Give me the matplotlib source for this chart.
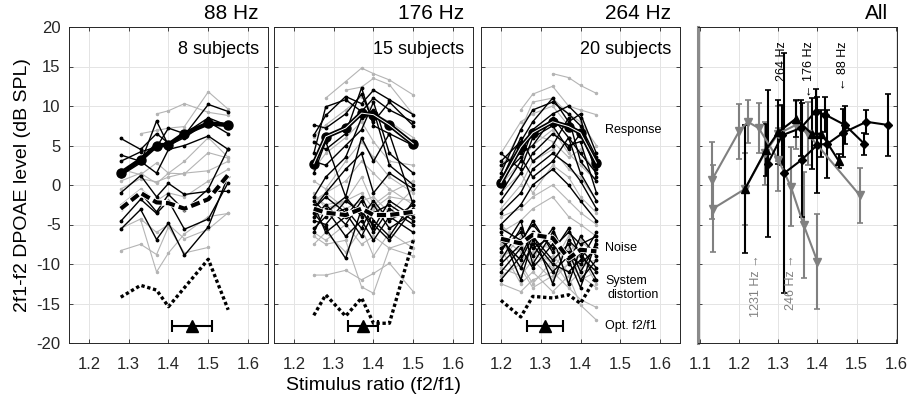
import numpy as np
import matplotlib
matplotlib.use('Agg')
import matplotlib.pyplot as plt

plt.rcParams['font.family'] = ['Liberation Sans', 'DejaVu Sans']
plt.rcParams['axes.unicode_minus'] = False

nan = np.nan

# ---------------- data ----------------
# 88 Hz, 8 subjects
x88 = [1.28, 1.33, 1.37, 1.40, 1.44, 1.50, 1.55]
resp88_k = [
    [5.9, 4.5, 6.5, 5.3, 6.3, 10.2, 9.3],
    [3.0, 4.2, 4.8, 7.2, 6.5, 8.5, 7.5],
    [3.8, 3.0, 1.5, 4.5, 5.0, 6.2, 4.5],
    [1.2, 2.8, 8.1, 5.0, 6.0, 8.0, 6.5],
]
resp88_g = [
    [nan, 6.5, 6.9, 7.2, 7.4, 11.8, 9.6],
    [nan, nan, 9.0, 9.4, 10.3, 9.2, 8.8],
    [2.0, 1.3, 2.8, 1.5, 3.0, 6.0, 3.5],
    [0.5, 1.5, 0.2, 1.5, 1.4, 4.1, 3.4],
    [-0.5, 0.8, 0.4, 1.0, 1.5, 1.8, 3.0],
]
noise88_k = [
    [-1.0, 1.2, -1.5, 0.2, -1.2, -0.8, -0.8],
    [-3.0, -1.0, -3.4, -1.2, -3.2, -0.5, 4.6],
    [-5.6, -3.1, -6.9, -4.8, -8.9, -5.3, 1.2],
    [-4.6, -1.8, -3.6, -2.0, -5.6, -4.3, 0.3],
]
noise88_g = [
    [-5.5, -4.3, -6.0, -5.0, -6.8, -5.6, -3.5],
    [-8.3, -7.5, -8.8, -5.3, -8.6, -7.9, nan],
    [nan, -4.4, -11.0, -8.6, -6.2, -4.0, -3.6],
    [-2.5, -0.5, -2.0, -1.0, -1.5, 0.5, 2.0],
]
mean88_resp = [1.5, 3.2, 5.0, 5.1, 6.5, 7.8, 7.6]
mean88_noise = [-3.0, -1.0, -2.2, -2.3, -3.0, -1.8, 1.3]
dist88_x = [1.28, 1.33, 1.37, 1.40, 1.50, 1.55]
dist88_y = [-14.2, -12.7, -13.3, -15.4, -9.4, -15.8]
opt88, opt88_err = 1.46, 0.05

# 176 Hz, 15 subjects
x176 = [1.25, 1.28, 1.33, 1.37, 1.40, 1.44, 1.50]
resp176_k = [
    [6.3, 8.8, 11.2, 10.3, 12.0, 10.8, 8.9],
    [4.0, 9.9, 10.8, 9.3, 11.0, 9.5, 8.0],
    [7.6, 7.2, 9.0, 11.5, 8.0, 10.5, 7.5],
    [5.5, 4.5, 6.5, 12.3, 7.5, 6.5, 5.0],
    [3.0, 2.5, 5.0, 7.0, 10.5, 4.0, 1.5],
    [-1.5, 1.0, 3.5, 8.5, 9.5, 2.5, 0.0],
    [1.5, 5.5, -1.5, 6.0, 3.0, 6.5, -2.5],
    [-3.0, -1.0, 2.0, 4.0, -1.0, 1.5, -0.5],
]
resp176_g = [
    [nan, 11.0, 13.1, 14.8, 14.1, 13.3, 11.4],
    [nan, nan, 12.0, 12.4, 13.5, 12.7, 8.9],
    [6.1, 7.6, 9.5, 11.2, 9.0, 8.0, 6.0],
    [2.0, 4.0, 6.0, 8.0, 5.5, 3.0, 2.5],
    [0.5, -0.5, 3.0, 5.5, 3.5, 1.0, -1.0],
    [-2.0, -1.0, 0.5, 3.0, 1.5, -0.5, -2.5],
    [-1.0, -3.0, -2.0, 1.0, -2.5, -1.0, 0.5],
]
noise176_k = [
    [-2.0, -3.5, -1.5, -4.0, -2.0, -4.5, -2.5],
    [-4.0, -2.5, -5.0, -2.0, -5.5, -2.0, -4.0],
    [-3.5, -5.5, -9.3, -3.0, -6.0, -3.0, -5.0],
    [-5.5, -4.0, -3.0, -5.5, -2.5, -5.5, -3.5],
    [-2.5, -6.0, -4.0, -1.5, -4.5, -6.5, -2.0],
    [-6.0, -3.0, -6.5, -4.5, -7.0, -4.0, -6.0],
    [-3.0, -1.5, -3.5, -6.5, -3.5, -2.5, -4.5],
    [-4.5, -5.0, -2.0, -3.5, -5.0, -7.0, -3.0],
]
noise176_g = [
    [-11.4, -11.4, -10.8, -12.0, -11.2, -9.9, -13.5],
    [-6.5, -7.5, -7.0, -12.9, -13.7, -8.0, -9.0],
    [-6.0, -7.0, -5.0, -7.5, -6.5, -8.0, -7.0],
    [-1.5, -2.5, -2.0, -1.0, -3.0, -1.5, -2.0],
    [-4.0, -3.5, -2.0, -3.0, -2.5, -4.5, -3.0],
    [-7.5, -6.0, -8.5, -5.5, -9.0, -6.0, -8.0],
    [-2.5, -1.0, -3.0, -2.0, -1.5, -3.5, -0.5],
]
mean176_resp = [2.7, 6.1, 7.2, 9.1, 8.9, 7.6, 5.2]
mean176_noise = [-3.0, -3.5, -3.8, -3.0, -3.8, -3.8, -3.4]
dist176_x = x176
dist176_y = [-16.5, -13.9, -16.6, -14.3, -17.5, -17.5, -7.0]
opt176, opt176_err = 1.374, 0.038

# 264 Hz, 20 subjects
x264 = [1.20, 1.25, 1.28, 1.33, 1.37, 1.40, 1.44]
resp264_k = [
    [3.0, 5.5, 8.0, 11.0, 8.0, 9.0, 4.0],
    [1.5, 7.0, 9.5, 10.5, 9.0, 7.5, 3.5],
    [-1.0, 3.0, 7.0, 9.0, 10.0, 8.5, 1.0],
    [2.5, 4.0, 5.0, 8.5, 6.0, 4.0, 1.5],
    [-2.0, 1.5, 4.0, 6.5, 5.0, 5.5, -1.0],
    [0.5, 6.0, 3.0, 5.0, 8.5, 3.0, 0.5],
    [-3.5, -1.0, 2.0, 4.0, 2.5, 0.5, -3.0],
    [4.0, 2.0, 6.0, 7.5, 4.5, 6.5, 2.0],
    [-5.0, -2.5, 0.0, 2.0, 0.0, -2.0, -4.5],
    [1.0, 3.5, 1.0, 3.0, 6.0, 1.5, -2.0],
]
resp264_g = [
    [nan, nan, nan, 14.1, 13.6, 12.6, 11.6],
    [nan, 9.5, 11.5, 12.5, 10.0, 9.5, 8.9],
    [2.0, 7.0, 10.5, 11.0, 9.0, 8.0, 5.0],
    [4.0, 8.0, 9.0, 10.0, 7.5, 6.5, 3.0],
    [0.0, 3.0, 5.0, 7.0, 4.0, 2.5, 0.5],
    [-3.0, 0.0, 3.0, 4.5, 2.0, 1.0, -2.0],
    [-1.0, 1.5, -1.0, 2.5, 1.0, -1.5, -3.5],
    [-4.0, -3.0, -1.5, 0.0, -2.0, -3.5, -5.0],
    [-6.0, -4.5, -3.0, -1.5, -4.0, -5.0, -6.5],
    [2.5, 4.5, 6.5, 5.5, 3.5, 4.5, 1.5],
]
noise264_k = [
    [-5.5, -7.0, -5.0, -8.0, -6.0, -7.5, -6.5],
    [-8.0, -6.0, -9.0, -5.5, -10.0, -6.5, -9.0],
    [-7.0, -9.5, -6.5, -9.5, -7.5, -11.0, -7.5],
    [-9.5, -5.5, -8.0, -6.5, -12.5, -8.0, -10.5],
    [-6.5, -10.5, -7.5, -11.0, -9.0, -10.0, -8.0],
    [-11.0, -8.0, -10.5, -7.5, -8.5, -12.0, -9.5],
    [-6.0, -12.0, -7.0, -10.0, -11.0, -9.5, -6.0],
    [-10.0, -7.5, -4.5, -8.5, -5.5, -9.0, -11.0],
    [-8.5, -4.5, -10.0, -6.0, -9.5, -13.0, -7.0],
    [-12.0, -9.0, -6.0, -12.5, -7.0, -8.5, -12.0],
]
noise264_g = [
    [-9.0, -8.0, -10.0, -9.0, -11.0, -10.0, -9.5],
    [-7.5, -9.5, -8.5, -10.5, -8.0, -12.0, -11.0],
    [-10.5, -11.5, -9.5, -12.0, -10.0, -9.0, -12.5],
    [-6.5, -8.5, -7.5, -8.0, -9.5, -8.5, -8.0],
    [-11.5, -10.0, -12.5, -9.5, -12.5, -11.0, -10.5],
    [-8.0, -12.5, -11.0, -13.5, -11.5, -15.2, -17.1],
    [-5.0, -7.5, -9.0, -7.0, -8.5, -7.0, -9.0],
    [-12.5, -13.5, -12.0, -11.0, -13.0, -14.5, -15.5],
    [-9.5, -6.5, -8.0, -10.0, -6.5, -10.5, -7.5],
    [-7.0, -10.5, -13.0, -11.5, -10.0, -11.5, -13.0],
]
mean264_resp = [0.3, 4.8, 6.6, 8.0, 7.4, 6.6, 2.8]
mean264_noise = [-6.8, -7.4, -6.3, -6.7, -9.3, -8.2, -8.4]
dist264_x = x264
dist264_y = [-14.6, -16.7, -14.1, -14.3, -13.9, -15.0, -11.6]
opt264, opt264_err = 1.31, 0.045
opt_level = -17.8

# All: group means +- error
all_88_x = [1.315, 1.36, 1.40, 1.425, 1.465, 1.525, 1.58]
all_88_y = [1.5, 3.2, 5.1, 5.2, 6.6, 8.0, 7.6]
all_88_e = [15.2, 7.2, 6.1, 4.3, 3.0, 1.5, 3.9]
all_176_x = [1.273, 1.31, 1.357, 1.395, 1.42, 1.47, 1.52]
all_176_y = [2.7, 6.3, 7.2, 9.3, 8.9, 7.6, 5.2]
all_176_e = [9.3, 3.8, 3.5, 2.8, 2.2, 2.4, 1.4]
all_264_x = [1.215, 1.268, 1.30, 1.345, 1.385, 1.41, 1.455]
all_264_y = [-0.5, 4.4, 6.7, 8.4, 6.5, 6.5, 3.0]
all_264_e = [8.1, 3.3, 4.0, 2.3, 4.5, 3.0, 0.9]
all_246_x = [1.133, 1.215, 1.265, 1.30, 1.345, 1.375, 1.508]
all_246_y = [-3.0, -0.5, 4.0, 6.5, 7.6, 6.5, -1.3]
all_246_e = [5.5, 4.5, 4.0, 3.5, 3.0, 4.0, 3.5]
all_1231_x = [1.13, 1.20, 1.222, 1.25, 1.30, 1.332, 1.365, 1.40]
all_1231_y = [0.6, 6.8, 8.0, 7.2, 3.2, -0.2, -5.1, -9.7]
all_1231_e = [4.9, 3.5, 2.7, 3.2, 4.0, 5.0, 6.7, 6.0]

titles = ['88 Hz', '176 Hz', '264 Hz', 'All']
n_subj = ['8 subjects', '15 subjects', '20 subjects']

K = '#262626'
GREY_LINE = '#b4b4b4'
GREY_SER = '#808080'


def style_axes(ax, xticks, xlim):
    ax.set_xlim(*xlim)
    ax.set_ylim(-20, 20)
    ax.set_xticks(xticks)
    ax.set_xticklabels(['%.1f' % t for t in xticks])
    ax.set_yticks(np.arange(-20, 21, 5))
    ax.grid(True, color='#e4e4e4', lw=0.7)
    ax.set_axisbelow(True)
    ax.tick_params(direction='in', top=True, right=True, length=3,
                   width=0.6, colors=K, labelsize=12)
    ax.tick_params(axis='x', pad=10)
    ax.tick_params(axis='y', pad=6)
    for s in ax.spines.values():
        s.set_color(K)
        s.set_linewidth(0.7)


def draw_panel(ax, x, rk, rg, nk, ng, m_resp, m_noise, dx, dy, opt, opt_err, core):
    for row in rg + ng:
        ax.plot(x, row, '-', color=GREY_LINE, lw=0.8, marker='.', ms=3)
    for row in rk + nk:
        ax.plot(x, row, '-', color='k', lw=1.0, marker='.', ms=3.5)
    ax.plot(dx, dy, color='k', lw=2.4, ls=(0, (1, 0.8)))
    ax.plot(x, m_noise, color='white', lw=4.2)
    ax.plot(x, m_noise, color='k', lw=3.0, ls=(0, (2.2, 1.0)))
    ax.plot(x, m_resp, color='k', lw=3.2, marker='o', ms=6.5)
    if core:
        ax.plot(x, m_resp, color='white', lw=0.7)
    ax.errorbar([opt], [opt_level], xerr=[opt_err], fmt='^', color='k', ms=9,
                lw=1.5, capsize=4, capthick=1.5)


fig = plt.figure(figsize=(9.15, 4.0), dpi=100)
lefts = [69, 274, 481, 698]
axes = [fig.add_axes([l / 915, 57 / 400, 199 / 915, 316 / 400]) for l in lefts]
ticks_a = [1.2, 1.3, 1.4, 1.5, 1.6]
for ax in axes[:3]:
    style_axes(ax, ticks_a, (1.15, 1.65))
style_axes(axes[3], [1.1, 1.2, 1.3, 1.4, 1.5, 1.6], (1.095, 1.603))
for ax in axes[1:]:
    ax.set_yticklabels([])

draw_panel(axes[0], x88, resp88_k, resp88_g, noise88_k, noise88_g, mean88_resp,
           mean88_noise, dist88_x, dist88_y, opt88, opt88_err, False)
draw_panel(axes[1], x176, resp176_k, resp176_g, noise176_k, noise176_g, mean176_resp,
           mean176_noise, dist176_x, dist176_y, opt176, opt176_err, True)
draw_panel(axes[2], x264, resp264_k, resp264_g, noise264_k, noise264_g, mean264_resp,
           mean264_noise, dist264_x, dist264_y, opt264, opt264_err, True)

for ax, t in zip(axes, titles):
    ax.text(0.953, 1.014, t, transform=ax.transAxes, ha='right', va='bottom', fontsize=15)
for ax, t in zip(axes[:3], n_subj):
    ax.text(0.955, 0.955, t, transform=ax.transAxes, ha='right', va='top', fontsize=13)

# labels in the 264 Hz panel
a3 = axes[2]
a3.text(1.462, 7.0, 'Response', fontsize=9, va='center')
a3.text(1.462, -8.0, 'Noise', fontsize=9, va='center')
a3.text(1.462, -12.2, 'System', fontsize=9, va='center')
a3.text(1.468, -13.9, 'distortion', fontsize=9, va='center')
a3.text(1.462, -17.8, 'Opt. f2/f1', fontsize=9, va='center')

# All panel
a4 = axes[3]
a4.spines['left'].set_color('#8a8a8a')
a4.spines['left'].set_linewidth(2.2)
for xs, ys, es in [(all_1231_x, all_1231_y, all_1231_e), (all_246_x, all_246_y, all_246_e)]:
    a4.errorbar(xs, ys, yerr=es, color=GREY_SER, marker='v', ms=6, lw=1.5,
                elinewidth=1.5, capsize=2, capthick=1.2)
a4.errorbar(all_264_x, all_264_y, yerr=all_264_e, color='k', marker='^', ms=6, lw=1.5,
            elinewidth=1.5, capsize=2, capthick=1.2)
for xs, ys, es in [(all_176_x, all_176_y, all_176_e), (all_88_x, all_88_y, all_88_e)]:
    a4.errorbar(xs, ys, yerr=es, color='k', marker='D', ms=4.5, lw=1.5,
                elinewidth=1.5, capsize=2, capthick=1.2)

a4.text(1.31, 18.2, '264 Hz', rotation=90, ha='center', va='top', fontsize=9)
a4.text(1.378, 18.2, '\u2190 176 Hz', rotation=90, ha='center', va='top', fontsize=9)
a4.text(1.464, 18.2, '\u2190 88 Hz', rotation=90, ha='center', va='top', fontsize=9)
a4.text(1.244, -8.8, '1231 Hz \u2192', rotation=90, ha='center', va='top', fontsize=9,
        color=GREY_SER)
a4.text(1.332, -8.8, '246 Hz \u2192', rotation=90, ha='center', va='top', fontsize=9,
        color=GREY_SER)

axes[0].set_ylabel('2f1-f2 DPOAE level (dB SPL)', fontsize=14, labelpad=4)
axes[1].set_xlabel('Stimulus ratio (f2/f1)', fontsize=14, labelpad=4)

fig.savefig('out.png', dpi=100)
